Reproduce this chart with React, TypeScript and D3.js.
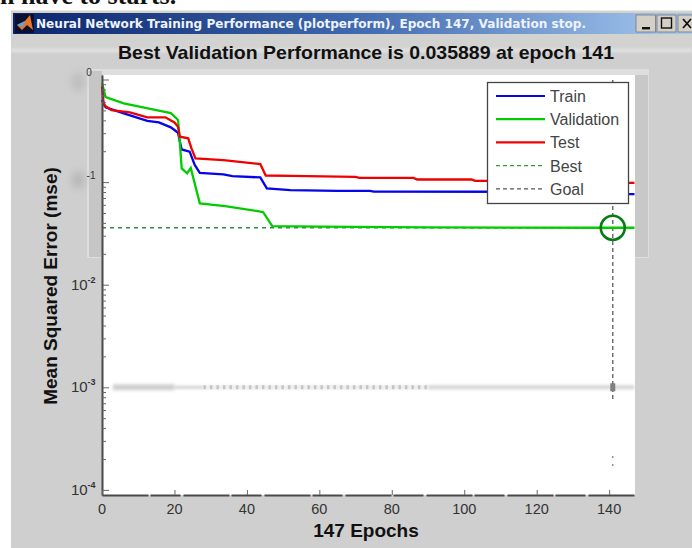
import { useEffect, useRef } from "react";
import * as d3 from "d3";

const W = 692;
const H = 548;

// [epoch, mse]
const trainSeries: [number, number][] = [
  [0, 0.631], [1, 0.536], [6, 0.468], [12.5, 0.396], [15.7, 0.382], [19, 0.342], [21, 0.303],
  [21.5, 0.247], [22, 0.208], [24.2, 0.198], [25.6, 0.147], [27, 0.123], [33.5, 0.119], [36, 0.1145],
  [43.7, 0.111], [45.5, 0.0868], [52, 0.0835], [65, 0.0822], [74, 0.0822], [75, 0.0808], [115, 0.0805],
  [141, 0.0805], [142, 0.0764], [147, 0.0764],
];
const validationSeries: [number, number][] = [
  [0, 0.918], [1, 0.675], [6, 0.586], [15, 0.503], [19, 0.471], [21, 0.403], [21.5, 0.24], [22, 0.136],
  [23.5, 0.122], [24.5, 0.137], [27, 0.062], [34, 0.0583], [43, 0.0521], [44.5, 0.0509], [47, 0.0372],
  [60, 0.0368], [90, 0.0362], [141, 0.0359], [147, 0.0359],
];
const testSeries: [number, number][] = [
  [0, 0.851], [0.5, 0.564], [2.6, 0.503], [7.7, 0.479], [12.5, 0.428], [17.5, 0.428], [20, 0.382],
  [21, 0.347], [21.5, 0.277], [23.8, 0.267], [24.7, 0.213], [25.8, 0.17], [33.5, 0.164], [43.7, 0.15],
  [45.2, 0.116], [52, 0.115], [70, 0.1125], [71, 0.11], [86, 0.11], [87, 0.106], [102, 0.106],
  [103, 0.103], [141, 0.103], [142, 0.0984], [147, 0.0984],
];

const bestEpoch = 141;
const bestPerf = 0.035889;
const goalPerf = 0.001;
const totalEpochs = 147;

const xTicks = [0, 20, 40, 60, 80, 100, 120, 140];
const decades = [1, 0.1, 0.01, 0.001, 0.0001];
const decadeExponents = ["0", "-1", "-2", "-3", "-4"];
const minorMultipliers = [2, 3, 4, 5, 6, 7, 8, 9];

const legendLabels = ["Train", "Validation", "Test", "Best", "Goal"];
const legendColors = ["#0505e8", "#00cc00", "#f00000", "#2f9a3f", "#555555"];

const chartTitle = "Best Validation Performance is 0.035889 at epoch 141";
const windowTitle = "Neural Network Training Performance (plotperform), Epoch 147, Validation stop.";

const x = d3.scaleLinear().domain([0, totalEpochs]).range([102, 634.5]);
const y = d3.scaleLog().domain([Math.pow(10, -4.05), Math.pow(10, 0.044)]).range([495, 75]);

const line = d3
  .line<[number, number]>()
  .x((d) => x(d[0]))
  .y((d) => y(d[1]));

const SANS = "'Liberation Sans', Arial, sans-serif";

export default function App() {
  const axesRef = useRef<SVGGElement>(null);

  useEffect(() => {
    const g = d3.select(axesRef.current);
    g.selectAll("*").remove();

    const minor: number[] = [];
    decades.slice(1).forEach((d) => minorMultipliers.forEach((m) => minor.push(d * m)));

    const left = g.append("g").attr("transform", "translate(102,0)");
    left.call(d3.axisLeft(y).tickValues(decades).tickSizeInner(-7).tickSizeOuter(0).tickFormat(() => ""));
    const leftMinor = g.append("g").attr("transform", "translate(102,0)");
    leftMinor.call(d3.axisLeft(y).tickValues(minor).tickSizeInner(-4).tickSizeOuter(0).tickFormat(() => ""));

    const bottom = g.append("g").attr("transform", "translate(0,495)");
    bottom.call(d3.axisBottom(x).tickValues(xTicks).tickSizeInner(-5).tickSizeOuter(0).tickFormat(() => ""));

    g.selectAll(".domain").attr("stroke", "#4a4a4a").attr("stroke-width", 1.6);
    g.selectAll(".tick line").attr("stroke", "#666666").attr("stroke-width", 1);
    bottom.select(".domain").attr("stroke-width", 2.2).attr("stroke-dasharray", "46,2,30,3");
  }, []);

  return (
    <svg width={W} height={H} style={{ position: "absolute", left: 0, top: 0, background: "#fff" }}>
      <defs>
        <linearGradient id="titlebar" x1="0" x2="1" y1="0" y2="0">
          <stop offset="0" stopColor="#0a246a" />
          <stop offset="0.5" stopColor="#3f68ae" />
          <stop offset="1" stopColor="#a6caf0" />
        </linearGradient>
        <filter id="soft" filterUnits="userSpaceOnUse" x={0} y={0} width={W} height={H}>
          <feGaussianBlur stdDeviation="1.6" />
        </filter>
        <filter id="smear" filterUnits="userSpaceOnUse" x={0} y={0} width={W} height={H}>
          <feGaussianBlur stdDeviation="4" />
        </filter>
      </defs>

      <text x={0} y={3.5} fontFamily="'Liberation Serif', serif" fontWeight="bold" fontSize={26} fill="#111">
        n have to starts.
      </text>

      {/* window body */}
      <rect x={11} y={12} width={681} height={536} fill="#cfcfcf" />
      <rect x={11} y={10.5} width={681} height={2} fill="#d8d4c8" />
      <rect x={13} y={13} width={679} height={21} fill="url(#titlebar)" />
      <rect x={11} y={34} width={681} height={16} fill="#d2d2d0" />
      <rect x={11} y={49.5} width={681} height={2} fill="#efefef" filter="url(#soft)" />

      {/* title bar */}
      <rect x={15} y={14} width={19} height={19} fill="#0c1030" />
      <path d={d3.line()([[17, 25], [25, 21], [30, 15], [33, 30], [27, 25], [22, 30]]) + "Z"} fill="#e8752a" />
      <path d={d3.line()([[17, 25], [25, 21], [23, 27]]) + "Z"} fill="#5aa7d8" />
      <text x={36} y={28} fontFamily="'DejaVu Sans', sans-serif" fontWeight="bold" fontSize={11.5} fill="#eef3fb" textLength={550} lengthAdjust="spacingAndGlyphs">
        {windowTitle}
      </text>
      <rect x={636} y={15} width={19.5} height={17} fill="#d4d0c8" stroke="#777" strokeWidth={0.8} />
      <rect x={657} y={15} width={19} height={17} fill="#d4d0c8" stroke="#777" strokeWidth={0.8} />
      <rect x={678} y={15} width={16} height={17} fill="#d4d0c8" stroke="#777" strokeWidth={0.8} />
      <rect x={642} y={27} width={8} height={2.4} fill="#111" />
      <rect x={661.5} y={18} width={10} height={10} fill="none" stroke="#111" strokeWidth={1.4} />
      <path d="M683,19L691,28M691,19L683,28" stroke="#111" strokeWidth={1.8} />

      {/* erased backing of the upper part of the plot */}
      <rect x={87} y={69} width={562} height={189} fill="#dedede" />
      <rect x={89} y={71} width={13} height={186} fill="#c6c6c6" />
      <rect x={635} y={75} width={13} height={182} fill="#c8c8c8" />
      <rect x={102} y={75} width={533} height={420} fill="#ffffff" />
      <ellipse cx={78} cy={82} rx={6} ry={10} fill="#bcbcbc" filter="url(#smear)" />
      <ellipse cx={78} cy={180} rx={6} ry={9} fill="#b4b4b4" filter="url(#smear)" />

      <text x={366} y={59} textAnchor="middle" fontFamily={SANS} fontWeight="bold" fontSize={18.4} fill="#111" textLength={496} lengthAdjust="spacingAndGlyphs">
        {chartTitle}
      </text>

      {/* smudged goal line */}
      <line x1={x(3)} x2={x(20)} y1={y(goalPerf)} y2={y(goalPerf)} stroke="#cfcfcf" strokeWidth={6} filter="url(#soft)" />
      <line x1={x(20)} x2={x(28)} y1={y(goalPerf)} y2={y(goalPerf)} stroke="#c8c8c8" strokeWidth={2.5} filter="url(#soft)" />
      <line x1={x(28)} x2={x(90)} y1={y(goalPerf)} y2={y(goalPerf)} stroke="#e4e4e4" strokeWidth={3} filter="url(#soft)" />
      <line x1={x(28)} x2={x(90)} y1={y(goalPerf)} y2={y(goalPerf)} stroke="#c4c4c4" strokeWidth={4} strokeDasharray="2.5,4" />
      <line x1={x(90)} x2={x(147)} y1={y(goalPerf)} y2={y(goalPerf)} stroke="#d4d4d4" strokeWidth={4} filter="url(#soft)" />

      <line x1={x(0)} x2={x(totalEpochs)} y1={y(bestPerf)} y2={y(bestPerf)} stroke="#2f8a45" strokeWidth={1.3} strokeDasharray="4,4" />
      <line x1={x(bestEpoch)} x2={x(bestEpoch)} y1={80} y2={402} stroke="#666" strokeWidth={1.4} strokeDasharray="4,3" />
      <line x1={x(bestEpoch)} x2={x(bestEpoch)} y1={456} y2={466} stroke="#888" strokeWidth={1.4} strokeDasharray="2,6" />
      <rect x={x(bestEpoch) - 2.5} y={y(goalPerf) - 4} width={5} height={8} fill="#808080" />

      <path d={line(trainSeries) ?? ""} fill="none" stroke="#0505e8" strokeWidth={2.3} />
      <path d={line(validationSeries) ?? ""} fill="none" stroke="#00cc00" strokeWidth={2.3} />
      <path d={line(testSeries) ?? ""} fill="none" stroke="#f00000" strokeWidth={2.3} />
      <circle cx={x(bestEpoch)} cy={y(bestPerf)} r={12} fill="none" stroke="#067a14" strokeWidth={2.6} />

      <g ref={axesRef} />

      {/* tick labels */}
      {xTicks.map((t) => (
        <text key={t} x={x(t)} y={514} textAnchor="middle" fontFamily={SANS} fontSize={14.5} fill="#333">
          {t}
        </text>
      ))}
      {decades.map((d, i) =>
        i < 2 ? (
          <text key={d} x={i === 0 ? 89 : 91} y={y(d) + (i === 0 ? -4 : -3)} textAnchor="middle" fontFamily={SANS} fontSize={10} fill="#333">
            {decadeExponents[i]}
          </text>
        ) : (
          <g key={d} fontFamily={SANS} fill="#333">
            <text x={71} y={y(d) + 5} fontSize={15}>10</text>
            <text x={87.5} y={y(d) - 2} fontSize={9} fontWeight="bold">{decadeExponents[i]}</text>
          </g>
        )
      )}

      <text x={366} y={537} textAnchor="middle" fontFamily={SANS} fontWeight="bold" fontSize={19} fill="#111">
        147 Epochs
      </text>
      <text transform="translate(57,286) rotate(-90)" textAnchor="middle" fontFamily={SANS} fontWeight="bold" fontSize={19} fill="#111">
        Mean Squared Error  (mse)
      </text>

      {/* legend */}
      <rect x={487.5} y={82.5} width={141} height={121} fill="#fff" stroke="#444" strokeWidth={1.3} />
      {legendLabels.map((label, i) => {
        const ly = 96 + i * 23.2;
        const dashed = i > 2;
        return (
          <g key={label}>
            <line
              x1={496}
              x2={545}
              y1={ly}
              y2={ly}
              stroke={legendColors[i]}
              strokeWidth={dashed ? 1.2 : 2.2}
              strokeDasharray={dashed ? "4,3" : undefined}
            />
            <text x={550} y={ly + 6} fontFamily={SANS} fontSize={16} fill="#444">
              {label}
            </text>
          </g>
        );
      })}
    </svg>
  );
}
